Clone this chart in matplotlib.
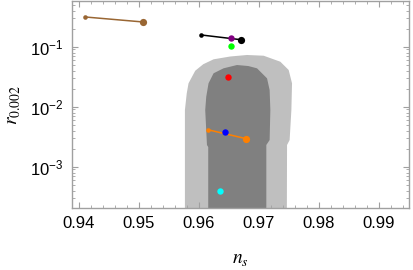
import matplotlib
matplotlib.use('Agg')
import matplotlib.pyplot as plt
import numpy as np
from matplotlib import rc
from matplotlib.ticker import FixedLocator, LogLocator, NullFormatter, LogFormatterMathtext

rc('mathtext', default='regular', fontset='stix')
plt.rcParams['font.family'] = ['Liberation Sans', 'DejaVu Sans']

# 2-sigma (light) and 1-sigma (dark) regions, (n_s, r); bottom runs off the axes
light_ns = [0.9577, 0.9577, 0.9580, 0.9583, 0.95942, 0.96075, 0.96247, 0.96525, 0.96803,
            0.9708, 0.97358, 0.97497, 0.97553, 0.97542, 0.97513, 0.9747, 0.97463]
light_r = [1e-5, 10**-2.055, 10**-1.78, 10**-1.61, 10**-1.40, 10**-1.292, 10**-1.21,
           10**-1.163, 10**-1.138, 10**-1.15, 10**-1.25, 10**-1.388, 10**-1.61,
           10**-2.055, 10**-2.555, 10**-2.638, 1e-5]
dark_ns = [0.96158, 0.96158, 0.96137, 0.96108, 0.96125, 0.96163, 0.96247, 0.96413,
           0.96637, 0.96825, 0.9697, 0.97137, 0.9718, 0.97192, 0.9718, 0.97125, 0.97125]
dark_r = [1e-5, 10**-2.672, 10**-2.638, 10**-2.055, 10**-1.833, 10**-1.61, 10**-1.443,
          10**-1.36, 10**-1.305, 10**-1.322, 10**-1.36, 10**-1.527, 10**-1.722,
          10**-2.055, 10**-2.555, 10**-2.638, 1e-5]

# model predictions: segments (small end, big end) and single points
brown_ns = [0.9411, 0.9508]
brown_r = [0.313, 0.258]
black_ns = [0.9604, 0.9670]
black_r = [0.157, 0.131]
orange_ns = [0.9615, 0.9679]
orange_r = [0.00414, 0.00293]
purple_ns, purple_r = 0.9654, 0.138
green_ns, green_r = 0.9653, 0.103
red_ns, red_r = 0.9649, 0.031
blue_ns, blue_r = 0.9643, 0.00383
cyan_ns, cyan_r = 0.9636, 0.0004

xticks = [0.94, 0.95, 0.96, 0.97, 0.98, 0.99]

fig = plt.figure(figsize=(4.13, 2.70), dpi=100)
ax = fig.add_axes([0.1743, 0.2296, 0.816, 0.7667])
ax.set_yscale('log')

ax.fill(light_ns, light_r, color='#bfbfbf', lw=0, zorder=1)
ax.fill(dark_ns, dark_r, color='#808080', lw=0, zorder=2)

for ns, r, c in [(brown_ns, brown_r, '#996633'), (black_ns, black_r, 'black'),
                 (orange_ns, orange_r, '#ff8000')]:
    ax.plot(ns, r, color=c, lw=1.1, zorder=3)
    ax.plot(ns[0], r[0], 'o', color=c, ms=3.3, mec='none', zorder=4)
    ax.plot(ns[1], r[1], 'o', color=c, ms=5.2, mec='none', zorder=4)

for ns, r, c in [(purple_ns, purple_r, '#800080'), (green_ns, green_r, '#00ff00'),
                 (red_ns, red_r, '#ff0000'), (blue_ns, blue_r, '#0000ff'),
                 (cyan_ns, cyan_r, '#00ffff')]:
    ax.plot(ns, r, 'o', color=c, ms=4.6, mec='none', zorder=5)

ax.set_xlim(0.9389, 0.995)
ax.set_ylim(2.05e-4, 0.578)

ax.set_xticks(xticks)
ax.set_xticklabels(['%.2f' % t for t in xticks])
ax.xaxis.set_minor_locator(FixedLocator(np.arange(0.938, 0.996, 0.002)))
ax.yaxis.set_major_locator(LogLocator(base=10, numticks=10))
ax.yaxis.set_major_formatter(LogFormatterMathtext())
ax.yaxis.set_minor_locator(LogLocator(base=10, subs=np.arange(2, 10), numticks=20))
ax.yaxis.set_minor_formatter(NullFormatter())

for s in ax.spines.values():
    s.set_color('#a0a0a0')
    s.set_linewidth(1.0)
ax.tick_params(which='both', direction='in', top=True, right=True, color='#a0a0a0',
               labelsize=12, labelcolor='black')
ax.tick_params(which='major', length=4, width=0.8, pad=6)
ax.tick_params(which='minor', length=2.2, width=0.6)

ax.set_xlabel(r'$\mathit{n}_{\mathit{s}}$', fontsize=14, labelpad=14)
ax.set_ylabel(r'$\mathit{r}_{\mathrm{0.002}}$', fontsize=14, labelpad=6)

fig.savefig('out.png', dpi=100)
